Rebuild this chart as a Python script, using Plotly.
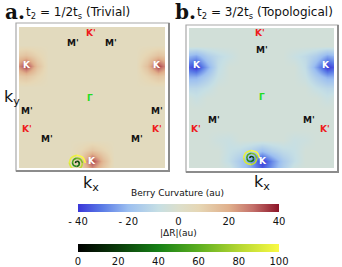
import plotly.graph_objects as go
from plotly.colors import sample_colorscale

W, H = 342, 267

# ---------------- data ----------------
# k-space grid nodes (normalised units, Gamma at 0)
grid_k = [-1.05, -0.9, -0.75, -0.6, -0.45, -0.3, -0.15, 0.0,
          0.15, 0.3, 0.45, 0.6, 0.75, 0.9, 1.05]

# Berry curvature, panel a (trivial): background + values at nodes (kx, ky, z)
bg_a = 5
nodes_a_left = [(-0.9, 0.45, 36), (-1.05, 0.45, 20), (-0.75, 0.45, 15),
                (-0.9, 0.6, 14), (-0.9, 0.3, 14), (-1.05, 0.6, 11),
                (-1.05, 0.3, 11), (-0.75, 0.6, 9), (-0.75, 0.3, 9)]
nodes_a_bottom = [(0.0, -0.9, 36), (0.15, -0.9, 17), (-0.15, -0.9, 13),
                  (0.0, -0.75, 13), (0.0, -1.05, 18), (0.15, -0.75, 9),
                  (-0.15, -0.75, 8), (0.15, -1.05, 11), (-0.15, -1.05, 10)]

# Berry curvature, panel b (topological)
bg_b = -4
nodes_b_left = [(-0.9, 0.45, -40), (-1.05, 0.45, -32), (-0.75, 0.45, -24),
                (-0.9, 0.6, -24), (-0.9, 0.3, -22), (-1.05, 0.6, -20),
                (-1.05, 0.3, -22), (-0.75, 0.6, -15), (-0.75, 0.3, -15),
                (-0.6, 0.6, -10), (-0.6, 0.45, -9), (-0.45, 0.6, -7),
                (-0.9, 0.15, -11), (-1.05, 0.15, -11), (-0.9, 0.0, -7),
                (-0.75, 0.15, -8), (-0.6, 0.3, -7)]
nodes_b_bottom = [(0.0, -0.9, -40), (0.15, -0.9, -28), (-0.15, -0.9, -26),
                  (0.0, -1.05, -32), (0.0, -0.75, -20), (0.15, -1.05, -24),
                  (-0.15, -1.05, -22), (0.15, -0.75, -14), (-0.15, -0.75, -14),
                  (0.3, -0.9, -16), (-0.3, -0.9, -16), (0.3, -0.75, -10),
                  (-0.3, -0.75, -10), (0.45, -0.75, -8), (-0.45, -0.75, -8),
                  (0.45, -0.6, -7), (-0.45, -0.6, -7), (0.6, -0.6, -6),
                  (-0.6, -0.6, -6), (0.3, -1.05, -14), (-0.3, -1.05, -14),
                  (0.45, -0.9, -9), (-0.45, -0.9, -9)]

# high-symmetry point labels
labels_a_text = ["K'", "M'", "M'", "K", "K", "Γ", "M'", "M'", "K'", "K'", "M'", "M'", "K"]
labels_a_kx = [-0.02, -0.26, 0.26, -0.89, 0.89, -0.03, -0.89, 0.89, -0.89, 0.89, -0.62, 0.62, 0.0]
labels_a_ky = [0.91, 0.77, 0.77, 0.46, 0.46, -0.01, -0.19, -0.19, -0.45, -0.45, -0.59, -0.59, -0.90]

labels_b_text = ["K'", "M'", "K", "K", "Γ", "M'", "M'", "K'", "K'", "K"]
labels_b_kx = [-0.02, 0.01, -0.89, 0.89, 0.0, -0.66, 0.66, -0.90, 0.88, 0.02]
labels_b_ky = [0.93, 0.69, 0.47, 0.47, 0.01, -0.31, -0.31, -0.44, -0.44, -0.90]

label_colors = {"K": "white", "K'": "#ee1c1c", "M'": "#111111", "Γ": "#22dd22"}

# Delta R spiral trajectories (offsets from centre, k units) and |dR| values
spiral_dkx = [0.12, 0.082, 0.0, -0.075, -0.102, -0.068, 0.0, 0.06, 0.08, 0.053,
              0.0, -0.045, -0.058, -0.038, 0.0, 0.03, 0.036, 0.022, 0.0, -0.013, -0.014]
spiral_dky = [0.0, 0.082, 0.111, 0.075, 0.0, -0.068, -0.092, -0.06, 0.0, 0.053,
              0.07, 0.045, 0.0, -0.038, -0.048, -0.03, 0.0, 0.022, 0.025, 0.013, 0.0]
spiral_dR = [100, 98, 95, 92, 90, 86, 82, 76, 68, 62, 56, 50, 45, 40, 35, 30, 25, 20, 15, 10, 5]
spiral_center_a = (-0.21, -0.93)
spiral_center_b = (-0.145, -0.86)

berry_ticks = [-40, -20, 0, 20, 40]
berry_ticktext = ["- 40", "- 20", "0", "20", "40"]
dr_ticks = [0, 20, 40, 60, 80, 100]

berry_scale = [[0.0, "#3a36d8"], [0.12, "#5a7be6"], [0.25, "#9cbff0"],
               [0.4, "#c6dfe4"], [0.5, "#dcdfcc"], [0.6, "#e6d7b5"],
               [0.75, "#e0b08c"], [0.87, "#c4706a"], [1.0, "#8c1428"]]
dr_scale = [[0.0, "#000000"], [0.2, "#0b3c0b"], [0.4, "#168016"],
            [0.6, "#5cae20"], [0.8, "#b4d632"], [1.0, "#fafa44"]]


# ---------------- build ----------------
def build_grid(bg, node_lists, mirror_lists):
    z = [[bg for _ in grid_k] for _ in grid_k]
    idx = {round(k, 2): i for i, k in enumerate(grid_k)}
    for lst in node_lists:
        for kx, ky, v in lst:
            z[idx[round(ky, 2)]][idx[round(kx, 2)]] = v
    for lst in mirror_lists:
        for kx, ky, v in lst:
            z[idx[round(ky, 2)]][idx[round(-kx, 2)]] = v
    return z


z_a = build_grid(bg_a, [nodes_a_left, nodes_a_bottom], [nodes_a_left])
z_b = build_grid(bg_b, [nodes_b_left, nodes_b_bottom], [nodes_b_left])


def px(x):
    return x / W


def py(y):
    return 1 - y / H


fig = go.Figure()

fig.add_trace(go.Heatmap(x=grid_k, y=grid_k, z=z_a, zsmooth="best",
                         coloraxis="coloraxis", xaxis="x", yaxis="y",
                         hoverinfo="skip"))
fig.add_trace(go.Heatmap(x=grid_k, y=grid_k, z=z_b, zsmooth="best",
                         coloraxis="coloraxis", xaxis="x2", yaxis="y2",
                         hoverinfo="skip"))

# spirals
for (cx, cy), xa, ya in [(spiral_center_a, "x", "y"), (spiral_center_b, "x2", "y2")]:
    sx = [cx + d for d in spiral_dkx]
    sy = [cy + d for d in spiral_dky]
    n = len(sx)
    for s0 in range(0, n - 1, 2):
        s1 = min(s0 + 3, n)
        mid = spiral_dR[s0] / 100
        col = sample_colorscale(dr_scale, [mid])[0]
        fig.add_trace(go.Scatter(x=sx[s0:s1], y=sy[s0:s1], mode="lines",
                                 line=dict(color=col, width=1.6, shape="spline"),
                                 xaxis=xa, yaxis=ya, showlegend=False,
                                 hoverinfo="skip"))
    fig.add_trace(go.Scatter(x=sx, y=sy, mode="markers",
                             marker=dict(color=spiral_dR, coloraxis="coloraxis2",
                                         size=0.1, opacity=0),
                             xaxis=xa, yaxis=ya, showlegend=False, hoverinfo="skip"))

# labels
for texts, kxs, kys, xa, ya in [(labels_a_text, labels_a_kx, labels_a_ky, "x", "y"),
                                (labels_b_text, labels_b_kx, labels_b_ky, "x2", "y2")]:
    for t, kx, ky in zip(texts, kxs, kys):
        fig.add_annotation(x=kx, y=ky, xref=xa, yref=ya, text="<b>%s</b>" % t,
                           showarrow=False,
                           font=dict(size=9, color=label_colors[t],
                                     family="DejaVu Sans"))

axis_common = dict(visible=False, range=[-1, 1], fixedrange=True)
fig.update_layout(
    width=W, height=H,
    margin=dict(l=0, r=0, t=0, b=0, autoexpand=False),
    paper_bgcolor="white", plot_bgcolor="white",
    showlegend=False,
    xaxis=dict(domain=[px(19), px(165)], anchor="y", **axis_common),
    yaxis=dict(domain=[py(168), py(27)], anchor="x", **axis_common),
    xaxis2=dict(domain=[px(189), px(334)], anchor="y2", **axis_common),
    yaxis2=dict(domain=[py(168), py(28)], anchor="x2", **axis_common),
    coloraxis=dict(colorscale=berry_scale, cmin=-40, cmax=40,
                   colorbar=dict(orientation="h", x=px(178.5), xanchor="center",
                                 y=py(204), yanchor="top", len=201, lenmode="pixels",
                                 thickness=8, thicknessmode="pixels", xpad=0, ypad=0,
                                 outlinewidth=0, ticks="", tickvals=berry_ticks,
                                 ticktext=berry_ticktext,
                                 tickfont=dict(size=10, family="DejaVu Sans", color="#111"))),
    coloraxis2=dict(colorscale=dr_scale, cmin=0, cmax=100,
                    colorbar=dict(orientation="h", x=px(178.5), xanchor="center",
                                  y=py(244), yanchor="top", len=201, lenmode="pixels",
                                  thickness=8, thicknessmode="pixels", xpad=0, ypad=0,
                                  outlinewidth=0, ticks="", tickvals=dr_ticks,
                                  tickfont=dict(size=10, family="DejaVu Sans", color="#111"))),
    font=dict(family="DejaVu Sans", color="#111"),
)

# frames (thin light top/left, darker heavier right/bottom)
for x0, y0, x1, y1 in [(16, 23, 169, 171), (186, 25, 338, 172)]:
    fig.add_shape(type="rect", xref="paper", yref="paper",
                  x0=px(x0), x1=px(x1), y0=py(y1), y1=py(y0),
                  line=dict(color="#a8a8a8", width=1.2))
    fig.add_shape(type="path", xref="paper", yref="paper",
                  path="M %f %f L %f %f L %f %f" % (px(x0), py(y1), px(x1), py(y1),
                                                     px(x1), py(y0)),
                  line=dict(color="#8c8c8c", width=2))

# titles and axis labels
ann = [
    dict(x=px(3), y=py(12), text="<b>a.</b>", size=20, family="DejaVu Serif", xa="left"),
    dict(x=px(24), y=py(13), text="t<sub>2</sub> = 1/2t<sub>s</sub> (Trivial)", size=12,
         family="DejaVu Sans", xa="left"),
    dict(x=px(173), y=py(12), text="<b>b.</b>", size=20, family="DejaVu Serif", xa="left"),
    dict(x=px(195), y=py(13), text="t<sub>2</sub> = 3/2t<sub>s</sub> (Topological)", size=12,
         family="DejaVu Sans", xa="left"),
    dict(x=px(12), y=py(97), text="k<sub>y</sub>", size=16, family="DejaVu Sans", xa="center"),
    dict(x=px(91), y=py(183), text="k<sub>x</sub>", size=16, family="DejaVu Sans", xa="center"),
    dict(x=px(262), y=py(182), text="k<sub>x</sub>", size=16, family="DejaVu Sans", xa="center"),
    dict(x=px(177), y=py(193), text="Berry Curvature (au)", size=9, family="DejaVu Sans", xa="center"),
    dict(x=px(178), y=py(233), text="|ΔR|(au)", size=9, family="DejaVu Sans", xa="center"),
]
for a in ann:
    fig.add_annotation(x=a["x"], y=a["y"], xref="paper", yref="paper", text=a["text"],
                       showarrow=False, xanchor=a["xa"], yanchor="middle",
                       font=dict(size=a["size"], family=a["family"], color="#111"))

fig.write_html("out.html", config={"displayModeBar": False},
               post_script="document.body.style.margin='0px';")
